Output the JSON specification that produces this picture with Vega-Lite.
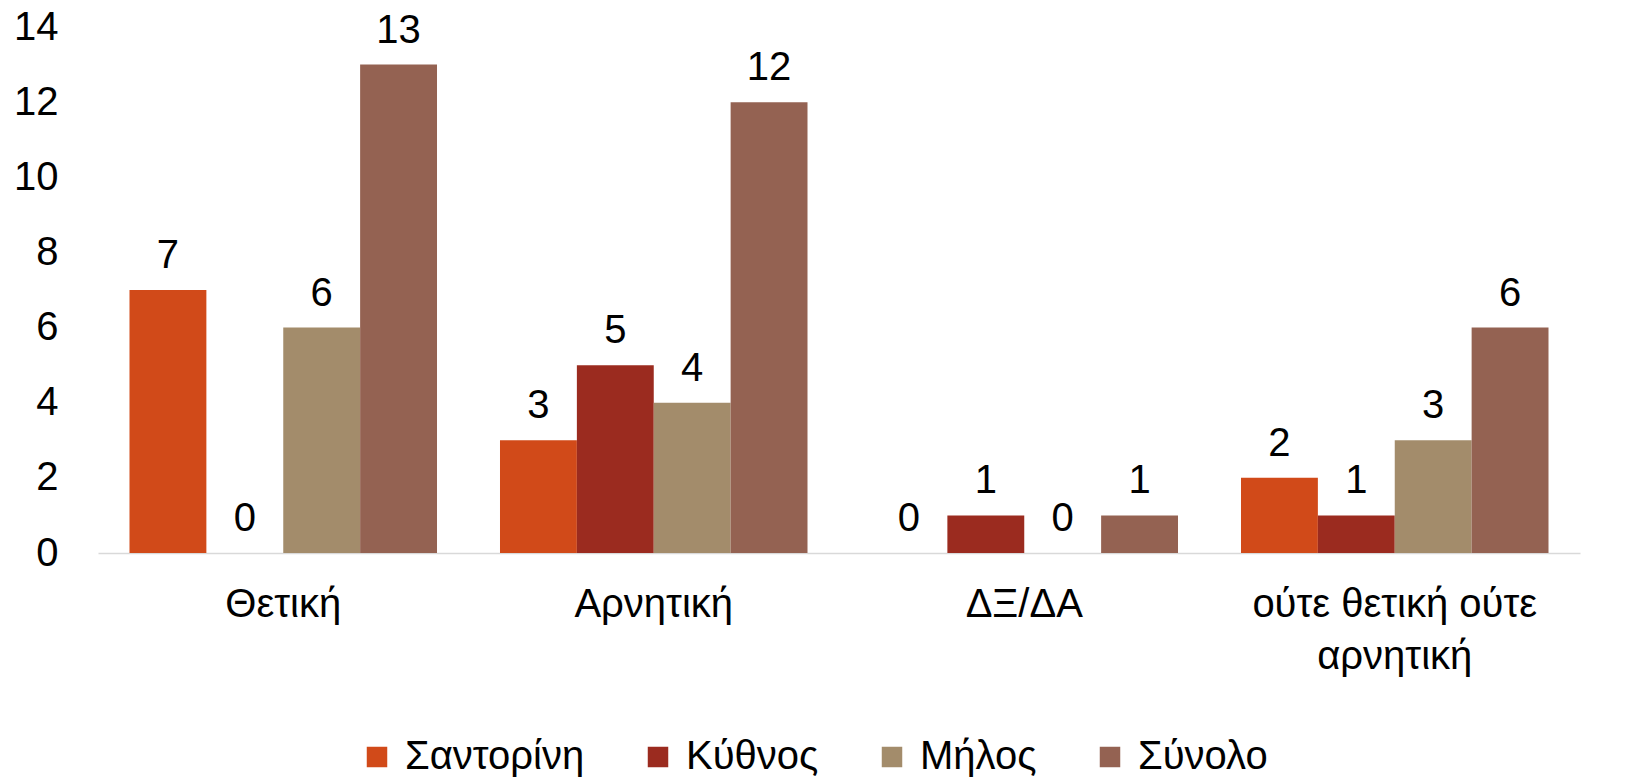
{
  "$schema": "https://vega.github.io/schema/vega-lite/v6.json",
  "width": 1482,
  "height": 526,
  "autosize": {"type": "none"},
  "padding": {"left": 98, "top": 27, "right": 46, "bottom": 229},
  "background": "white",
  "config": {"view": {"stroke": null}, "font": "Liberation Sans"},
  "data": {
    "values": [
      {"cat": "Θετική", "series": "Σαντορίνη", "value": 7},
      {"cat": "Θετική", "series": "Κύθνος", "value": 0},
      {"cat": "Θετική", "series": "Μήλος", "value": 6},
      {"cat": "Θετική", "series": "Σύνολο", "value": 13},
      {"cat": "Αρνητική", "series": "Σαντορίνη", "value": 3},
      {"cat": "Αρνητική", "series": "Κύθνος", "value": 5},
      {"cat": "Αρνητική", "series": "Μήλος", "value": 4},
      {"cat": "Αρνητική", "series": "Σύνολο", "value": 12},
      {"cat": "ΔΞ/ΔΑ", "series": "Σαντορίνη", "value": 0},
      {"cat": "ΔΞ/ΔΑ", "series": "Κύθνος", "value": 1},
      {"cat": "ΔΞ/ΔΑ", "series": "Μήλος", "value": 0},
      {"cat": "ΔΞ/ΔΑ", "series": "Σύνολο", "value": 1},
      {"cat": "ούτε θετική ούτε αρνητική", "series": "Σαντορίνη", "value": 2},
      {"cat": "ούτε θετική ούτε αρνητική", "series": "Κύθνος", "value": 1},
      {"cat": "ούτε θετική ούτε αρνητική", "series": "Μήλος", "value": 3},
      {"cat": "ούτε θετική ούτε αρνητική", "series": "Σύνολο", "value": 6}
    ]
  },
  "encoding": {
    "x": {
      "field": "cat",
      "type": "nominal",
      "sort": ["Θετική", "Αρνητική", "ΔΞ/ΔΑ", "ούτε θετική ούτε αρνητική"],
      "scale": {"paddingInner": 0.17, "paddingOuter": 0.085},
      "axis": {
        "title": null,
        "labelAngle": 0,
        "labelFontSize": 40,
        "labelColor": "#000000",
        "labelPadding": 51,
        "labelBaseline": "middle",
        "labelLineHeight": 52,
        "labelLimit": 0,
        "ticks": false,
        "domainColor": "#D9D9D9",
        "domainWidth": 1.5,
        "labelExpr": "datum.label == 'ούτε θετική ούτε αρνητική' ? ['ούτε  θετική  ούτε', 'αρνητική'] : datum.label"
      }
    },
    "xOffset": {
      "field": "series",
      "type": "nominal",
      "sort": ["Σαντορίνη", "Κύθνος", "Μήλος", "Σύνολο"],
      "scale": {"paddingInner": 0, "paddingOuter": 0}
    },
    "y": {
      "field": "value",
      "type": "quantitative",
      "scale": {"domain": [0, 14], "nice": false},
      "axis": {
        "title": null,
        "values": [0, 2, 4, 6, 8, 10, 12, 14],
        "labelFontSize": 40,
        "labelColor": "#000000",
        "labelPadding": 40,
        "ticks": false,
        "domain": false,
        "grid": false
      }
    }
  },
  "layer": [
    {
      "mark": {"type": "bar"},
      "encoding": {
        "color": {
          "field": "series",
          "type": "nominal",
          "sort": ["Σαντορίνη", "Κύθνος", "Μήλος", "Σύνολο"],
          "scale": {
            "domain": ["Σαντορίνη", "Κύθνος", "Μήλος", "Σύνολο"],
            "range": ["#D14A19", "#9B2B1F", "#A38C6B", "#946252"]
          },
          "legend": {
            "title": null,
            "orient": "none",
            "direction": "horizontal",
            "legendX": 259,
            "legendY": 710,
            "symbolType": "square",
            "symbolSize": 420,
            "symbolStrokeWidth": 0,
            "labelFontSize": 40,
            "labelColor": "#000000",
            "labelOffset": 8,
            "labelLimit": 0,
            "columnPadding": 53
          }
        }
      }
    },
    {
      "mark": {"type": "text", "baseline": "alphabetic", "dy": -22, "fontSize": 40, "color": "#000000"},
      "encoding": {
        "text": {"field": "value", "type": "quantitative"}
      }
    }
  ]
}
